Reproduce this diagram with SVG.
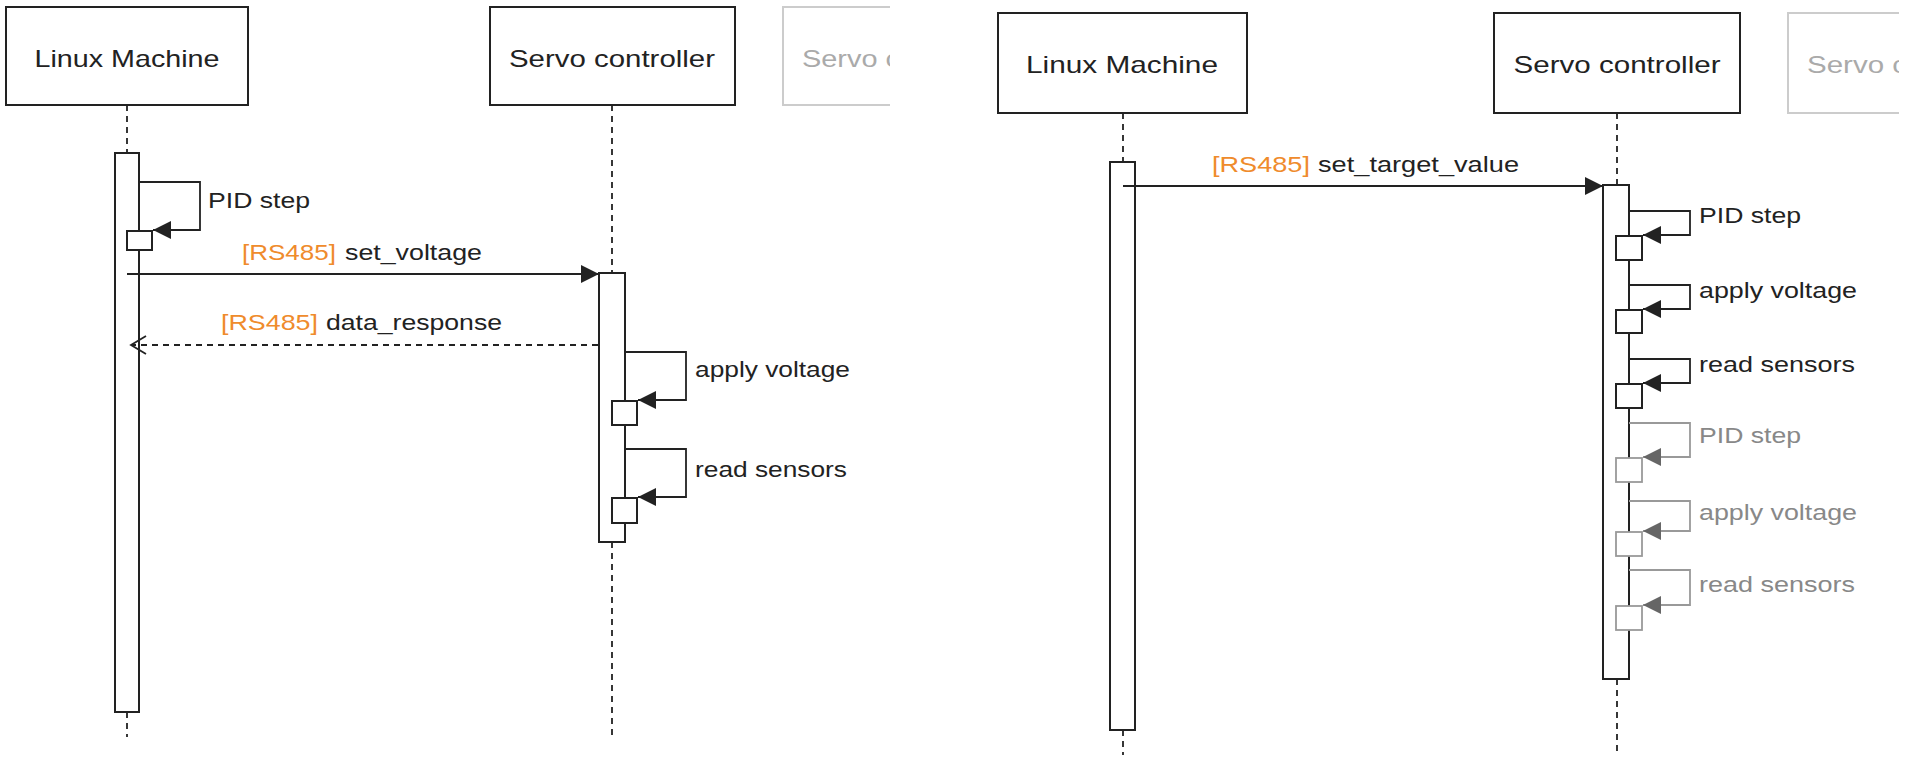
<svg xmlns="http://www.w3.org/2000/svg" width="1906" height="778" viewBox="0 0 1906 778">
<style>
.bg{fill:#ffffff}
.box{fill:#ffffff;stroke:#222;stroke-width:2}
.ghost{fill:#ffffff;stroke:#cccccc;stroke-width:2}
.act{fill:#ffffff;stroke:#222;stroke-width:2}
.gact{fill:#ffffff;stroke:#999;stroke-width:1.8}
.life{fill:none;stroke:#222;stroke-width:1.8;stroke-dasharray:6 5}
.msg{fill:none;stroke:#222;stroke-width:1.8}
.ret{fill:none;stroke:#222;stroke-width:1.8;stroke-dasharray:6 5}
.gmsg{fill:none;stroke:#999;stroke-width:1.8}
.title{font-family:"Liberation Sans",Arial,sans-serif;font-size:24px;fill:#222}
.gtitle{font-family:"Liberation Sans",Arial,sans-serif;font-size:24px;fill:#aaaaaa}
.lbl{font-family:"Liberation Sans",Arial,sans-serif;font-size:22px;fill:#222}
.glbl{font-family:"Liberation Sans",Arial,sans-serif;font-size:22px;fill:#888}
.or{font-family:"Liberation Sans",Arial,sans-serif;font-size:22px;fill:#ef8b2c}
</style>
<defs>
<marker id="fa" viewBox="0 0 18 18" refX="18" refY="9" markerWidth="18" markerHeight="18" markerUnits="userSpaceOnUse" orient="auto">
<path d="M0,0 L18,9 L0,18 Z" fill="#222"/>
</marker>
<marker id="ga" viewBox="0 0 18 18" refX="18" refY="9" markerWidth="18" markerHeight="18" markerUnits="userSpaceOnUse" orient="auto">
<path d="M0,0 L18,9 L0,18 Z" fill="#666"/>
</marker>
<marker id="oa" viewBox="0 0 18 20" refX="16" refY="10" markerWidth="18" markerHeight="20" markerUnits="userSpaceOnUse" orient="auto">
<path d="M1,1 L16,10 L1,19" fill="none" stroke="#222" stroke-width="1.8"/>
</marker>
<clipPath id="clipL"><rect x="0" y="0" width="890" height="778"/></clipPath>
<clipPath id="clipR"><rect x="950" y="0" width="949" height="778"/></clipPath>
</defs>
<rect class="bg" x="0" y="0" width="1906" height="778"/>

<!-- LEFT PANEL -->
<g id="left-linux">
<rect class="box" x="6" y="7" width="242" height="98"/>
<text class="title" x="127" y="67" text-anchor="middle" textLength="185" lengthAdjust="spacingAndGlyphs">Linux Machine</text>
</g>
<g id="left-servo">
<rect class="box" x="490" y="7" width="245" height="98"/>
<text class="title" x="612" y="67" text-anchor="middle" textLength="206" lengthAdjust="spacingAndGlyphs">Servo controller</text>
</g>
<g id="left-ghost" clip-path="url(#clipL)">
<rect class="ghost" x="783" y="7" width="240" height="98"/>
<text class="gtitle" x="802" y="67" textLength="98" lengthAdjust="spacingAndGlyphs">Servo c</text>
</g>

<!-- RIGHT PANEL -->
<g id="right-linux">
<rect class="box" x="998" y="13" width="249" height="100"/>
<text class="title" x="1122" y="73" text-anchor="middle" textLength="192" lengthAdjust="spacingAndGlyphs">Linux Machine</text>
</g>
<g id="right-servo">
<rect class="box" x="1494" y="13" width="246" height="100"/>
<text class="title" x="1617" y="73" text-anchor="middle" textLength="207" lengthAdjust="spacingAndGlyphs">Servo controller</text>
</g>
<g id="right-ghost" clip-path="url(#clipR)">
<rect class="ghost" x="1788" y="13" width="240" height="100"/>
<text class="gtitle" x="1807" y="73" textLength="100" lengthAdjust="spacingAndGlyphs">Servo c</text>
</g>

<g id="lifelines">
<path class="life" d="M127,105 V153 M127,712 V737"/>
<path class="life" d="M612,105 V273 M612,542 V737"/>
<path class="life" d="M1123,113 V162 M1123,730 V755"/>
<path class="life" d="M1617,113 V185 M1617,679 V755"/>
</g>

<g id="left-linux-activation">
<rect class="act" x="115" y="153" width="24" height="559"/>
<rect class="act" x="127" y="231" width="25" height="19"/>
</g>
<g id="left-servo-activation">
<rect class="act" x="599" y="273" width="26" height="269"/>
<rect class="act" x="612" y="401" width="25" height="24"/>
<rect class="act" x="612" y="498" width="25" height="25"/>
</g>
<g id="right-linux-activation">
<rect class="act" x="1110" y="162" width="25" height="568"/>
</g>
<g id="right-servo-activation">
<rect class="act" x="1603" y="185" width="26" height="494"/>
<rect class="act" x="1616" y="236" width="26" height="24"/>
<rect class="act" x="1616" y="310" width="26" height="23"/>
<rect class="act" x="1616" y="384" width="26" height="24"/>
<rect class="gact" x="1616" y="458" width="26" height="24"/>
<rect class="gact" x="1616" y="532" width="26" height="24"/>
<rect class="gact" x="1616" y="606" width="26" height="24"/>
</g>

<g id="connectors">
<!-- left -->
<path class="msg" d="M139,182 H200 V230 H153" marker-end="url(#fa)"/>
<path class="msg" d="M127,274 H599" marker-end="url(#fa)"/>
<path class="ret" d="M598,345 H131" marker-end="url(#oa)"/>
<path class="msg" d="M625,352 H686 V400 H638" marker-end="url(#fa)"/>
<path class="msg" d="M625,449 H686 V497 H638" marker-end="url(#fa)"/>
<!-- right -->
<path class="msg" d="M1123,186 H1603" marker-end="url(#fa)"/>
<path class="msg" d="M1629,211 H1690 V235 H1643" marker-end="url(#fa)"/>
<path class="msg" d="M1629,285 H1690 V309 H1643" marker-end="url(#fa)"/>
<path class="msg" d="M1629,359 H1690 V383 H1643" marker-end="url(#fa)"/>
<path class="gmsg" d="M1629,423 H1690 V457 H1643" marker-end="url(#ga)"/>
<path class="gmsg" d="M1629,501 H1690 V531 H1643" marker-end="url(#ga)"/>
<path class="gmsg" d="M1629,570 H1690 V605 H1643" marker-end="url(#ga)"/>
</g>

<g id="labels">
<text class="lbl" x="208" y="208" textLength="102" lengthAdjust="spacingAndGlyphs">PID step</text>
<text class="or" x="242" y="260" textLength="94" lengthAdjust="spacingAndGlyphs">[RS485]</text>
<text class="lbl" x="345" y="260" textLength="137" lengthAdjust="spacingAndGlyphs">set_voltage</text>
<text class="or" x="221" y="330" textLength="97" lengthAdjust="spacingAndGlyphs">[RS485]</text>
<text class="lbl" x="326" y="330" textLength="176" lengthAdjust="spacingAndGlyphs">data_response</text>
<text class="lbl" x="695" y="377" textLength="155" lengthAdjust="spacingAndGlyphs">apply voltage</text>
<text class="lbl" x="695" y="477" textLength="152" lengthAdjust="spacingAndGlyphs">read sensors</text>

<text class="or" x="1212" y="172" textLength="98" lengthAdjust="spacingAndGlyphs">[RS485]</text>
<text class="lbl" x="1318" y="172" textLength="201" lengthAdjust="spacingAndGlyphs">set_target_value</text>
<text class="lbl" x="1699" y="223" textLength="102" lengthAdjust="spacingAndGlyphs">PID step</text>
<text class="lbl" x="1699" y="298" textLength="158" lengthAdjust="spacingAndGlyphs">apply voltage</text>
<text class="lbl" x="1699" y="372" textLength="156" lengthAdjust="spacingAndGlyphs">read sensors</text>
<text class="glbl" x="1699" y="443" textLength="102" lengthAdjust="spacingAndGlyphs">PID step</text>
<text class="glbl" x="1699" y="520" textLength="158" lengthAdjust="spacingAndGlyphs">apply voltage</text>
<text class="glbl" x="1699" y="592" textLength="156" lengthAdjust="spacingAndGlyphs">read sensors</text>
</g>
</svg>
